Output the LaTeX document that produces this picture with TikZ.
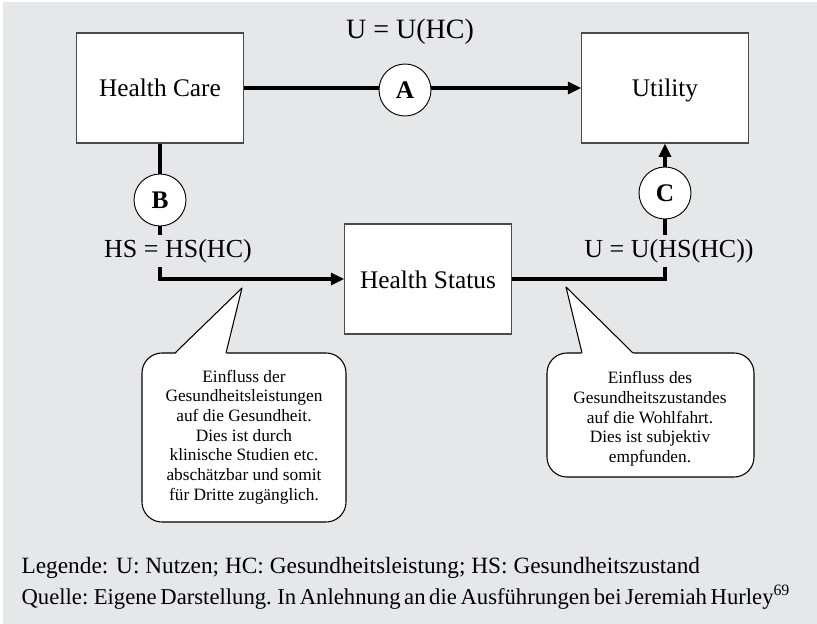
\documentclass[tikz,border=0pt]{standalone}
\usepackage{fontspec}
\setmainfont{Liberation Serif}
\usetikzlibrary{arrows.meta}
\definecolor{fond}{HTML}{E6E7E9}
\definecolor{cadre}{HTML}{4A4A4A}

\begin{document}
\begin{tikzpicture}[x=0.75pt, y=-0.75pt, line width=2.4pt]
        \tikzstyle{boite}=[draw=cadre, line width=0.8pt, fill=white, minimum width=125pt, minimum height=82.5pt, text height=15pt, text depth=1.5pt, font=\fontsize{19}{21}\selectfont];
        \tikzstyle{rond}=[circle, draw, line width=0.7pt, fill=white, minimum size=39pt, inner sep=0, font=\fontsize{19}{21}\selectfont\bfseries];
        \tikzstyle{formule}=[fill=fond, inner sep=3pt, font=\fontsize{19.5}{21}\selectfont];
        \tikzstyle{bulle}=[draw, line width=0.8pt, fill=white, rounded corners=15pt];
        \tikzstyle{pointe}=[draw, line width=0.8pt, line join=round];
        \tikzstyle{texte}=[align=center, font=\fontsize{13}{14.8}\selectfont];
        \tikzstyle{fleche}=[-{Triangle[length=10pt,width=9pt]}];

        % fond
        \fill[white] (0,0) rectangle (817,624);
        \fill[fond] (3,2) rectangle (817,624);
        \useasboundingbox (0,0) rectangle (817,624);

        % les trois boites
        \node[boite] (hc) at (160,88) {Health Care};
        \node[boite] (ut) at (665,88) {Utility};
        \node[boite] (hs) at (428,279) {Health Status};

        % liaisons
        \draw[fleche] (hc) -- (ut);
        \draw[fleche] (hc.south) |- (hs.west);
        \draw[fleche] (hs.east) -| (ut.south);

        % cercles et formules
        \node[rond] (a) at (405,90) {A};
        \node[rond] (b) at (160,200) {B};
        \node[rond] (c) at (665,193) {C};
        \node[font=\fontsize{21}{23}\selectfont] (fa) at (410,32) {U = U(HC)};
        \node[formule] (fb) at (178,251) {HS = HS(HC)};
        \node[formule] (fc) at (669,251) {U = U(HS(HC))};

        % bulles
        \draw[bulle] (142,353) rectangle (346,522);
        \fill[white] (174,355) -- (242,288) -- (226,355) -- cycle;
        \draw[pointe] (175,353) -- (242,288) -- (226,353);
        \node[texte] (t1) at (244,437) {Einfluss der\\Gesundheitsleistungen\\auf die Gesundheit.\\Dies ist durch\\klinische Studien etc.\\abschätzbar und somit\\für Dritte zugänglich.};
        \draw[bulle] (547,353) rectangle (754,477);
        \fill[white] (582,355) -- (566,287) -- (635,355) -- cycle;
        \draw[pointe] (582,353) -- (566,287) -- (633,353);
        \node[texte] (t2) at (650,419) {Einfluss des\\Gesundheitszustandes\\auf die Wohlfahrt.\\Dies ist subjektiv\\empfunden.};

        % legende
        \node[anchor=base west, inner sep=0, font=\fontsize{17.5}{20}\selectfont] (leg) at (20,573) {Legende: U: Nutzen; HC: Gesundheitsleistung; HS: Gesundheitszustand};
        \node[anchor=base west, inner sep=0, font=\fontsize{17}{20}\selectfont] (src) at (20,604) {\spaceskip=0.16em plus 0.05em\relax Quelle: Eigene Darstellung. In Anlehnung an die Ausführungen bei Jeremiah Hurley\textsuperscript{69}};
    \end{tikzpicture}
\end{document}
